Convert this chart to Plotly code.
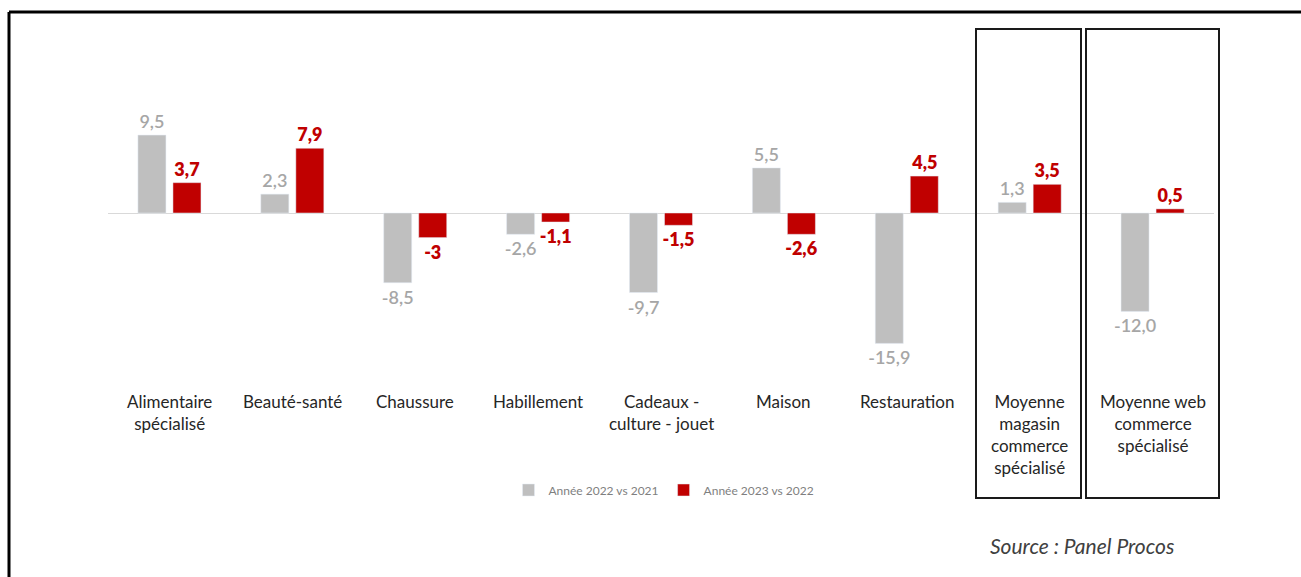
import plotly.graph_objects as go

# Categories and values (% change)
categories = [
    "Alimentaire<br>spécialisé",
    "Beauté-santé",
    "Chaussure",
    "Habillement",
    "Cadeaux -<br>culture - jouet",
    "Maison",
    "Restauration",
    "Moyenne<br>magasin<br>commerce<br>spécialisé",
    "Moyenne web<br>commerce<br>spécialisé",
]
labels_2022 = ["9,5", "2,3", "-8,5", "-2,6", "-9,7", "5,5", "-15,9", "1,3", "-12,0"]
labels_2023 = ["3,7", "7,9", "-3", "-1,1", "-1,5", "-2,6", "4,5", "3,5", "0,5"]
series_names = ["Année 2022 vs 2021", "Année 2023 vs 2022"]

vals_2022 = [float(s.replace(",", ".")) for s in labels_2022]
vals_2023 = [float(s.replace(",", ".")) for s in labels_2023]

GREY = "#bfbfbf"
RED = "#c00000"
FONT = "Lato"

# Plot-area geometry in pixels
W, H = 1301, 577
L, R, T, B = 108, 1214, 30, 360
PX_PER_UNIT = 8.2
ZERO_Y = 213
y_top = (ZERO_Y - T) / PX_PER_UNIT
y_bot = -(B - ZERO_Y) / PX_PER_UNIT


def px(x):
    return (x - L) / (R - L)


def py(y):
    return (B - y) / (B - T)


x = list(range(len(categories)))

fig = go.Figure()
fig.add_trace(go.Bar(
    x=x, y=vals_2022, name=series_names[0], marker_color=GREY,
    text=labels_2022, textposition="outside", constraintext="none",
    textfont=dict(family=FONT, size=18, color="#a6a6a6", weight=600),
    cliponaxis=False,
))
fig.add_trace(go.Bar(
    x=x, y=vals_2023, name=series_names[1], marker_color=RED,
    text=labels_2023, textposition="outside", constraintext="none",
    textfont=dict(family=FONT, size=18, color=RED, weight=800),
    cliponaxis=False,
))

annotations = []
for i, c in enumerate(categories):
    annotations.append(dict(
        x=i, xref="x", y=py(389), yref="paper", yanchor="top", xanchor="center",
        text=c, showarrow=False, align="center",
        font=dict(family=FONT, size=17, color="#262626", weight=400),
    ))
annotations.append(dict(
    x=px(988), xref="paper", y=py(545), yref="paper", xanchor="left", yanchor="middle",
    text="<i>Source : Panel Procos</i>", showarrow=False,
    font=dict(family=FONT, size=21, color="#404040"),
))

shapes = [
    # outer frame (top and left edges)
    dict(type="line", xref="paper", yref="paper", x0=px(9), x1=px(1305), y0=py(12), y1=py(12),
         line=dict(color="black", width=3)),
    dict(type="line", xref="paper", yref="paper", x0=px(9), x1=px(9), y0=py(12), y1=py(580),
         line=dict(color="black", width=3)),
    # boxes around the averages
    dict(type="rect", xref="paper", yref="paper", x0=px(976), x1=px(1081), y0=py(498), y1=py(29),
         line=dict(color="#1a1a1a", width=2)),
    dict(type="rect", xref="paper", yref="paper", x0=px(1086), x1=px(1219), y0=py(498), y1=py(29),
         line=dict(color="#1a1a1a", width=2)),
]

fig.update_layout(
    width=W, height=H,
    margin=dict(l=L, r=W - R, t=T, b=H - B),
    paper_bgcolor="white", plot_bgcolor="white",
    barmode="group", bargap=0.43, bargroupgap=0.2,
    showlegend=True,
    legend=dict(orientation="h", x=px(664), xanchor="center", y=py(490), yanchor="middle",
                font=dict(family=FONT, size=12, color="#7f7f7f"),
                itemwidth=30, traceorder="normal"),
    xaxis=dict(range=[-0.5, len(categories) - 0.5], showticklabels=False, showgrid=False,
               zeroline=False, showline=False, fixedrange=True),
    yaxis=dict(range=[y_bot, y_top], showticklabels=False, showgrid=False,
               zeroline=True, zerolinecolor="#d9d9d9", zerolinewidth=1, showline=False),
    annotations=annotations,
    shapes=shapes,
    font=dict(family=FONT),
)

fig.write_html("out.html")
